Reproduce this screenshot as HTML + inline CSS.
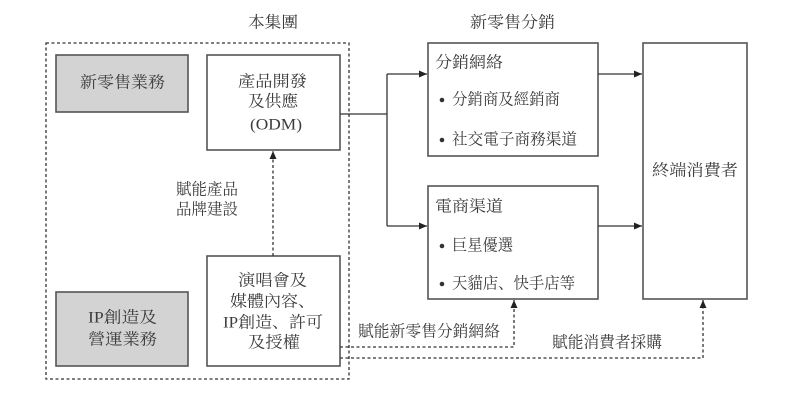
<!DOCTYPE html>
<html><head><meta charset="utf-8"><style>
html,body{margin:0;padding:0;background:#fff;}
svg{display:block;}
text{font-family:"Liberation Serif","Noto Serif CJK SC","Noto Serif CJK TC",serif;font-size:16px;fill:#3c3c3c;dominant-baseline:central;}
</style></head><body>
<svg width="800" height="401" viewBox="0 0 800 401" xmlns="http://www.w3.org/2000/svg">
<defs>
<marker id="ah" markerWidth="10" markerHeight="10" refX="9" refY="5" orient="auto" markerUnits="userSpaceOnUse">
<path d="M1,1.5 L9,5 L1,8.5 Z" fill="#222"/>
</marker>
</defs>
<rect x="0" y="0" width="800" height="401" fill="#fff"/>

<!-- outer dashed group box -->
<rect x="46" y="43" width="303" height="336" fill="none" stroke="#333" stroke-width="1.3" stroke-dasharray="3,2.5"/>

<!-- gray boxes -->
<rect x="56" y="55" width="132" height="57" fill="#d3d3d3" stroke="#555" stroke-width="1.6"/>
<rect x="56" y="292" width="132" height="74" fill="#d3d3d3" stroke="#555" stroke-width="1.6"/>

<!-- white boxes -->
<rect x="207" y="55" width="133" height="95" fill="#fff" stroke="#555" stroke-width="1.6"/>
<rect x="207" y="256" width="133" height="110" fill="#fff" stroke="#555" stroke-width="1.6"/>
<rect x="428" y="43" width="170" height="113" fill="#fff" stroke="#555" stroke-width="1.6"/>
<rect x="428" y="186" width="170" height="113" fill="#fff" stroke="#555" stroke-width="1.6"/>
<rect x="643" y="43" width="104" height="256" fill="#fff" stroke="#555" stroke-width="1.6"/>

<!-- solid connectors -->
<polyline points="340,114 387,114" fill="none" stroke="#333" stroke-width="1.3"/>
<line x1="387" y1="74" x2="387" y2="226" stroke="#333" stroke-width="1.3"/>
<line x1="387" y1="74" x2="427" y2="74" stroke="#333" stroke-width="1.3" marker-end="url(#ah)"/>
<line x1="387" y1="226" x2="427" y2="226" stroke="#333" stroke-width="1.3" marker-end="url(#ah)"/>
<line x1="598" y1="74" x2="642" y2="74" stroke="#333" stroke-width="1.3" marker-end="url(#ah)"/>
<line x1="598" y1="226" x2="642" y2="226" stroke="#333" stroke-width="1.3" marker-end="url(#ah)"/>

<!-- dashed connectors -->
<line x1="273" y1="256" x2="273" y2="151" stroke="#333" stroke-width="1.3" stroke-dasharray="3,2.5" marker-end="url(#ah)"/>
<polyline points="340,347 514,347 514,300" fill="none" stroke="#333" stroke-width="1.3" stroke-dasharray="3,2.5" marker-end="url(#ah)"/>
<polyline points="340,358 703,358 703,300" fill="none" stroke="#333" stroke-width="1.3" stroke-dasharray="3,2.5" marker-end="url(#ah)"/>

<!-- headings -->
<text x="248" y="23" textLength="50" lengthAdjust="spacingAndGlyphs">本集團</text>
<text x="470" y="23" textLength="85" lengthAdjust="spacingAndGlyphs">新零售分銷</text>

<!-- gray box text -->
<text x="80" y="83" textLength="85" lengthAdjust="spacingAndGlyphs">新零售業務</text>
<text x="88" y="318" textLength="69" lengthAdjust="spacingAndGlyphs">IP創造及</text>
<text x="88" y="340" textLength="69" lengthAdjust="spacingAndGlyphs">營運業務</text>

<!-- ODM box -->
<text x="238" y="82" textLength="69" lengthAdjust="spacingAndGlyphs">產品開發</text>
<text x="248" y="102" textLength="50" lengthAdjust="spacingAndGlyphs">及供應</text>
<text x="250" y="125" textLength="52" lengthAdjust="spacingAndGlyphs">(ODM)</text>

<!-- concert box -->
<text x="238" y="281" textLength="69" lengthAdjust="spacingAndGlyphs">演唱會及</text>
<text x="230" y="302" textLength="85" lengthAdjust="spacingAndGlyphs">媒體內容、</text>
<text x="223" y="323" textLength="100" lengthAdjust="spacingAndGlyphs">IP創造、許可</text>
<text x="248" y="343" textLength="52" lengthAdjust="spacingAndGlyphs">及授權</text>

<!-- dashed labels -->
<text x="176" y="190" textLength="62" lengthAdjust="spacingAndGlyphs">賦能產品</text>
<text x="176" y="210" textLength="62" lengthAdjust="spacingAndGlyphs">品牌建設</text>
<text x="358" y="332" textLength="142" lengthAdjust="spacingAndGlyphs">賦能新零售分銷網絡</text>
<text x="552" y="343" textLength="110" lengthAdjust="spacingAndGlyphs">賦能消費者採購</text>

<!-- distribution box -->
<text x="435" y="63" textLength="68" lengthAdjust="spacingAndGlyphs">分銷網絡</text>
<circle cx="442" cy="100" r="2.3" fill="#333"/>
<text x="452" y="100" textLength="108" lengthAdjust="spacingAndGlyphs">分銷商及經銷商</text>
<circle cx="442" cy="140" r="2.3" fill="#333"/>
<text x="452" y="140" textLength="125" lengthAdjust="spacingAndGlyphs">社交電子商務渠道</text>

<!-- e-commerce box -->
<text x="435" y="207" textLength="68" lengthAdjust="spacingAndGlyphs">電商渠道</text>
<circle cx="442" cy="246" r="2.3" fill="#333"/>
<text x="452" y="246" textLength="61" lengthAdjust="spacingAndGlyphs">巨星優選</text>
<circle cx="442" cy="284" r="2.3" fill="#333"/>
<text x="452" y="284" textLength="123" lengthAdjust="spacingAndGlyphs">天貓店、快手店等</text>

<!-- consumer -->
<text x="652" y="171" textLength="86" lengthAdjust="spacingAndGlyphs">終端消費者</text>
</svg>
</body></html>
